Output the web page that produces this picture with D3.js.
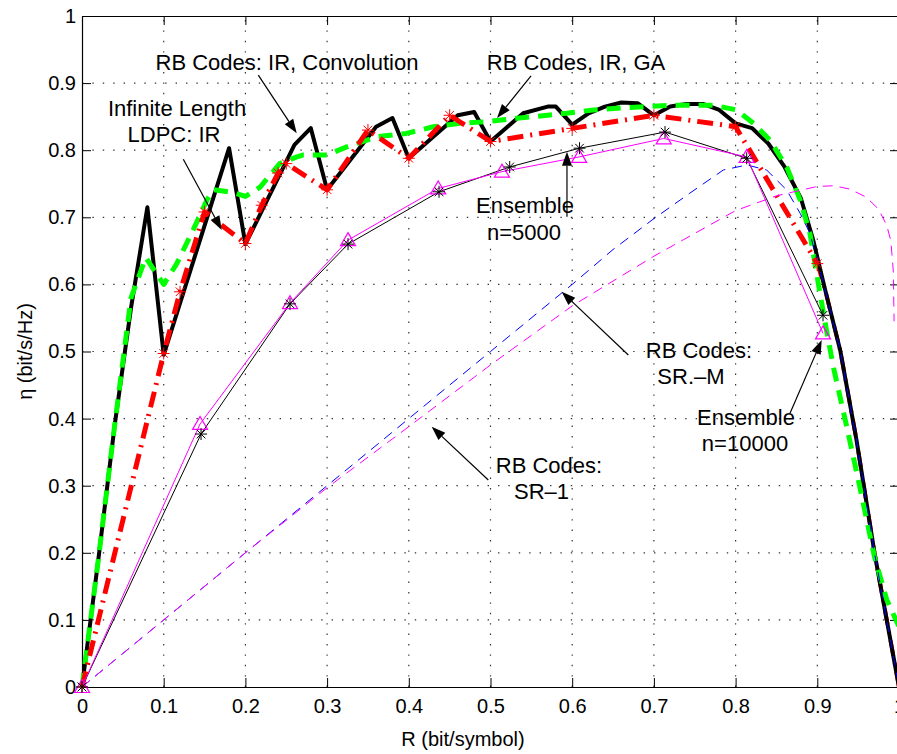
<!DOCTYPE html>
<html><head><meta charset="utf-8">
<script src="https://cdn.jsdelivr.net/npm/d3@7"></script>
<style>
body{margin:0;background:#fff;}
svg{display:block;}
text{font-family:"Liberation Sans",Arial,Helvetica,sans-serif;fill:#000;}
</style>
</head><body>
<svg id="c" width="897" height="754"></svg>
<script>
// ---------------- data ----------------
// RB Codes: IR, Convolution (thick black)
const convR   = [0,0.02,0.04,0.06,0.08,0.1,0.18,0.2,0.26,0.28,0.3,0.36,0.38,0.4,0.46,0.48,0.5,0.54,0.57,0.58,0.6,0.62,0.64,0.66,0.68,0.7,0.72,0.74,0.76,0.78,0.8,0.82,0.84,0.86,0.88,0.895,0.91,0.928,0.948,0.97,1.0];
const convEta = [0,0.19,0.39,0.565,0.715,0.495,0.803,0.66,0.808,0.833,0.741,0.835,0.848,0.788,0.852,0.857,0.813,0.855,0.865,0.865,0.838,0.855,0.865,0.871,0.87,0.852,0.865,0.869,0.869,0.86,0.84,0.833,0.81,0.775,0.728,0.666,0.59,0.502,0.368,0.2,0];
// RB Codes, IR, GA (thick green dashed)
const gaR   = [0,0.02,0.04,0.06,0.078,0.1,0.116,0.136,0.153,0.161,0.185,0.2,0.218,0.242,0.263,0.271,0.3,0.324,0.361,0.397,0.43,0.463,0.495,0.532,0.593,0.626,0.66,0.72,0.773,0.801,0.822,0.842,0.8625,0.879,0.891,0.9,0.91,0.92,0.936,0.952,0.97,0.985,1.0];
const gaEta = [0,0.19,0.39,0.58,0.64,0.6,0.631,0.681,0.726,0.741,0.737,0.731,0.745,0.78,0.79,0.793,0.793,0.805,0.82,0.825,0.835,0.84,0.8425,0.8475,0.855,0.86,0.863,0.867,0.867,0.86,0.84,0.815,0.775,0.726,0.676,0.61,0.54,0.475,0.388,0.2985,0.194,0.13,0.09];
// Infinite Length LDPC: IR (thick red dash-dot with * markers)
const ldpcR   = [0,0.1,0.12,0.15,0.2,0.22,0.24,0.25,0.3,0.35,0.4,0.45,0.5,0.6,0.7,0.8,0.9,0.91,0.928,0.948,0.97,1.0];
const ldpcEta = [0,0.497,0.589,0.708,0.661,0.718,0.766,0.78,0.741,0.83,0.788,0.852,0.813,0.8325,0.852,0.835,0.631,0.59,0.502,0.368,0.2,0];
const ldpcMarkedCount = 17;
// Ensemble n=5000 (thin black with *)
const ens5R   = [0,0.1457,0.2546,0.3256,0.437,0.5235,0.609,0.7136,0.8136,0.907];
const ens5Eta = [0,0.377,0.571,0.66,0.738,0.775,0.803,0.827,0.788,0.554];
// Ensemble n=10000 (thin magenta with triangles)
const ens10R   = [0,0.1445,0.2546,0.3256,0.436,0.514,0.6085,0.712,0.8136,0.907];
const ens10Eta = [0,0.392,0.572,0.666,0.743,0.768,0.79,0.8175,0.79,0.527];
// RB Codes: SR-M (thin blue dashed)
const srmR   = [0,0.1,0.2,0.3,0.4,0.5,0.6,0.65,0.7,0.744,0.785,0.814,0.838,0.8625,0.879,0.891,0.91,0.928,0.948,0.97,1.0];
const srmEta = [0,0.1,0.2,0.3,0.4,0.5,0.6,0.652,0.698,0.736,0.7705,0.778,0.7705,0.7407,0.706,0.676,0.59,0.502,0.368,0.2,0];
// RB Codes: SR-1 (thin magenta dashed)
const sr1R   = [0,0.1,0.2,0.3,0.4,0.5,0.6,0.7,0.75,0.8,0.85,0.9,0.92,0.94,0.96,0.975,0.985,0.99,0.993,0.994];
const sr1Eta = [0,0.1,0.2,0.297,0.388,0.48,0.568,0.642,0.676,0.71,0.732,0.746,0.747,0.742,0.73,0.712,0.688,0.665,0.62,0.545];

const tickValues = [0,0.1,0.2,0.3,0.4,0.5,0.6,0.7,0.8,0.9,1];
const xLabel = "R (bit/symbol)";
const yLabel = "η (bit/s/Hz)";

// annotations (data coordinates)
const annoLines = [
  ["RB Codes: IR, Convolution"], ["RB Codes, IR, GA"], ["Infinite Length","LDPC: IR"],
  ["Ensemble","n=5000"], ["RB Codes:","SR.–M"], ["Ensemble","n=10000"], ["RB Codes:","SR–1"]
];
const annoTextX = [[0.2509],[0.6047],[0.1163,0.1126],[0.5422,0.541],[0.7552,0.7454],[0.8127,0.8115],[0.5716,0.5624]];
const annoTextY = [[0.9195],[0.9195],[0.851,0.8122],[0.7064,0.6657],[0.4903,0.4516],[0.3905,0.3517],[0.3189,0.2802]];
const arrowFrom = [[0.2158,0.912],[0.5496,0.9106],[0.124,0.7864],[0.5936,0.7009],[0.6687,0.4948],[0.8666,0.4079],[0.4973,0.3085]];
const arrowTo   = [[0.2628,0.8252],[0.508,0.848],[0.171,0.6811],[0.5936,0.7978],[0.5871,0.5891],[0.9054,0.5171],[0.428,0.3879]];

// ---------------- chart ----------------
const W = 897, H = 754;
const x = d3.scaleLinear().domain([0,1]).range([82,899]);
const y = d3.scaleLinear().domain([0,1]).range([687,16]);
const svg = d3.select('#c');
svg.append('rect').attr('width',W).attr('height',H).attr('fill','#fff');

// grid
const gridV = tickValues.filter(v => v > 0 && v < 1);
const grid = svg.append('g').attr('stroke','#333').attr('stroke-width',1.2).attr('stroke-dasharray','1.4,9');
grid.selectAll('line.v').data(gridV).join('line').attr('class','v')
  .attr('x1',d=>x(d)).attr('x2',d=>x(d)).attr('y1',y(0)).attr('y2',y(1));
grid.selectAll('line.h').data(gridV).join('line').attr('class','h')
  .attr('y1',d=>y(d)).attr('y2',d=>y(d)).attr('x1',x(0)).attr('x2',x(1));

// axes
const fmt = d => d === 0 ? "0" : d === 1 ? "1" : d.toFixed(1);
function styleAxis(g){
  g.attr('font-family','"Liberation Sans",Arial,Helvetica,sans-serif').attr('font-size',20);
  g.selectAll('.domain').attr('stroke','#000').attr('stroke-width',1.2);
  g.selectAll('.tick line').attr('stroke','#000').attr('stroke-width',1);
  g.selectAll('.tick text').attr('fill','#000');
}
svg.append('g').attr('transform',`translate(0,${y(0)})`)
  .call(d3.axisBottom(x).tickValues(tickValues).tickFormat(fmt).tickSizeInner(-9).tickSizeOuter(0).tickPadding(12))
  .call(styleAxis);
svg.append('g').attr('transform',`translate(${x(0)},0)`)
  .call(d3.axisLeft(y).tickValues(tickValues).tickFormat(fmt).tickSizeInner(-9).tickSizeOuter(0).tickPadding(6))
  .call(styleAxis);
svg.append('g').attr('transform',`translate(0,${y(1)})`)
  .call(d3.axisTop(x).tickValues(tickValues).tickFormat('').tickSizeInner(-9).tickSizeOuter(0))
  .call(styleAxis);
svg.append('g').attr('transform',`translate(${x(1)},0)`)
  .call(d3.axisRight(y).tickValues(tickValues).tickFormat('').tickSizeInner(-9).tickSizeOuter(0))
  .call(styleAxis);

// axis labels
svg.append('text').attr('x',463).attr('y',746).attr('text-anchor','middle').attr('font-size',20).text(xLabel);
svg.append('text').attr('transform',`translate(32,${(y(0)+y(1))/2}) rotate(-90)`).attr('text-anchor','middle').attr('font-size',20).text(yLabel);

// lines
const line = d3.line().x(d=>x(d[0])).y(d=>y(d[1]));
const plot = svg.append('g');
function drawLine(R, E, stroke, width, dash){
  plot.append('path').datum(d3.zip(R,E)).attr('d',line)
    .attr('fill','none').attr('stroke',stroke).attr('stroke-width',width)
    .attr('stroke-linejoin','round').attr('stroke-dasharray',dash||null);
}
// LDPC tail (beyond the last marker) lies under the black curve
const tailStart = ldpcMarkedCount - 1;
drawLine(ldpcR.slice(tailStart), ldpcEta.slice(tailStart), '#ff0000', 4, '16,7,2,7');
drawLine(convR, convEta, '#000', 4);
drawLine(gaR, gaEta, '#00ff00', 5, '14,9');
drawLine(ldpcR.slice(0, ldpcMarkedCount), ldpcEta.slice(0, ldpcMarkedCount), '#ff0000', 5, '16,7,2,7');
drawLine(srmR, srmEta, '#0000ff', 1, '10,7');
drawLine(sr1R, sr1Eta, '#ff00ff', 1, '10,7');
drawLine(ens5R, ens5Eta, '#000', 1);
drawLine(ens10R, ens10Eta, '#ff00ff', 1);

// markers
const star = 'M-6,0H6M0,-6V6M-4.3,-4.3L4.3,4.3M-4.3,4.3L4.3,-4.3';
const tri = 'M0,-7.5L7.5,5.5L-7.5,5.5Z';
function drawMarkers(R, E, path, stroke, width){
  plot.append('g').selectAll('path').data(d3.zip(R,E)).join('path')
    .attr('transform',d=>`translate(${x(d[0])},${y(d[1])})`)
    .attr('d',path).attr('fill','none').attr('stroke',stroke).attr('stroke-width',width);
}
drawMarkers(ldpcR.slice(0,ldpcMarkedCount), ldpcEta.slice(0,ldpcMarkedCount), star, '#ff0000', 1);
drawMarkers(ens10R, ens10Eta, tri, '#ff00ff', 1.2);
drawMarkers(ens5R, ens5Eta, star, '#000', 1);

// annotations
const ann = svg.append('g');
annoLines.forEach((lines,i)=>{
  lines.forEach((t,j)=>{
    ann.append('text').attr('x',x(annoTextX[i][j])).attr('y',y(annoTextY[i][j]))
      .attr('text-anchor','middle').attr('font-size',22).text(t);
  });
  const x1=x(arrowFrom[i][0]), y1=y(arrowFrom[i][1]), x2=x(arrowTo[i][0]), y2=y(arrowTo[i][1]);
  const L=Math.hypot(x2-x1,y2-y1), ux=(x2-x1)/L, uy=(y2-y1)/L, hl=14, hw=5;
  const bx=x2-ux*hl, by=y2-uy*hl;
  ann.append('line').attr('x1',x1).attr('y1',y1).attr('x2',bx).attr('y2',by).attr('stroke','#000').attr('stroke-width',1.2);
  ann.append('path').attr('d',`M${x2},${y2}L${bx-uy*hw},${by+ux*hw}L${bx+uy*hw},${by-ux*hw}Z`).attr('fill','#000');
});
</script>
</body></html>
